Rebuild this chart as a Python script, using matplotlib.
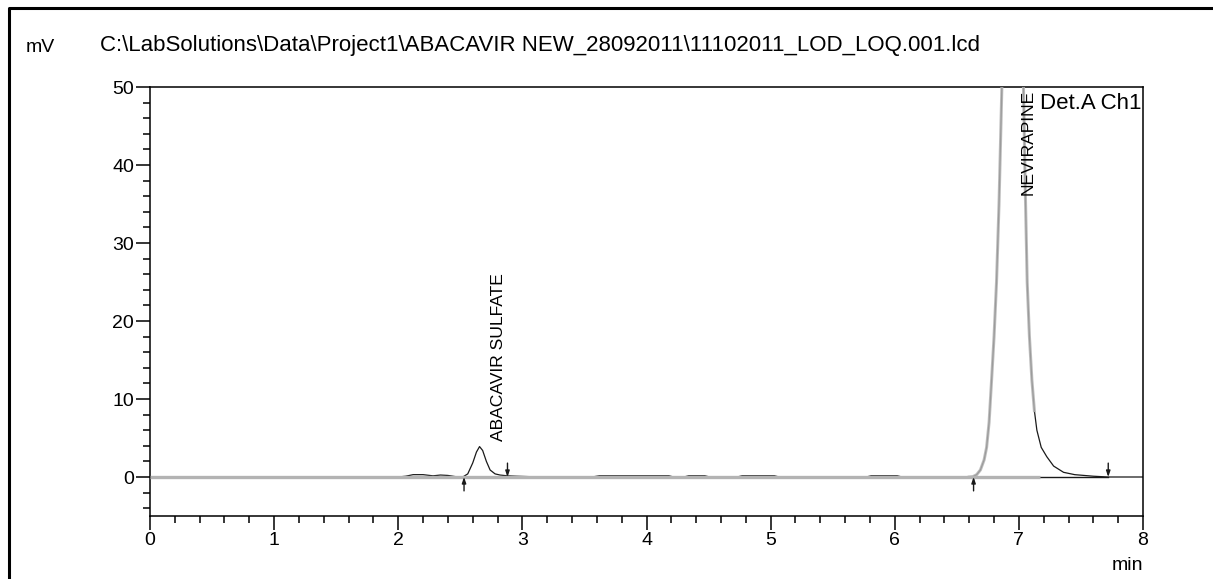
import matplotlib
matplotlib.use('Agg')
import matplotlib.pyplot as plt
from matplotlib.ticker import MultipleLocator
from matplotlib.lines import Line2D
import numpy as np

plt.rcParams['font.family'] = ['Liberation Sans', 'DejaVu Sans']

titulo = r"C:\LabSolutions\Data\Project1\ABACAVIR NEW_28092011\11102011_LOD_LOQ.001.lcd"

sig_t = [0.00, 2.00, 2.06, 2.12, 2.20, 2.28, 2.34, 2.40, 2.46, 2.52, 2.56, 2.60,
         2.63, 2.655, 2.68, 2.71, 2.74, 2.78, 2.82, 2.88, 2.95, 3.05, 3.10,
         3.56, 3.62, 4.18, 4.22, 4.30, 4.34, 4.47, 4.51, 4.73, 4.77, 5.03, 5.07,
         5.77, 5.81, 6.02, 6.06, 6.60, 6.63, 6.66, 6.69, 6.72, 6.74, 6.76, 6.78,
         6.80, 6.82, 6.84, 6.863, 6.90, 6.95, 7.00, 7.037, 7.05, 7.067, 7.085,
         7.105, 7.125, 7.145, 7.18, 7.225, 7.28, 7.36, 7.45, 7.60, 7.72, 8.00]
sig_mv = [0.00, 0.00, 0.10, 0.30, 0.30, 0.15, 0.25, 0.20, 0.05, 0.00, 0.40, 1.80,
          3.20, 3.90, 3.40, 2.00, 0.90, 0.40, 0.25, 0.15, 0.10, 0.05, 0.00,
          0.00, 0.15, 0.15, 0.00, 0.00, 0.15, 0.15, 0.00, 0.00, 0.15, 0.15, 0.00,
          0.00, 0.15, 0.15, 0.00, 0.00, 0.05, 0.30, 0.90, 2.20, 3.80, 7.00, 12.4,
          18.0, 25.0, 35.0, 50.0, 80.0, 100.0, 80.0, 50.0, 38.0, 25.0, 18.0,
          12.4, 8.5, 6.0, 3.8, 2.6, 1.4, 0.6, 0.3, 0.1, 0.0, 0.0]

# traço cinza sobreposto (linha de zero + pico da nevirapina)
cinza_fim = 7.17
cinza_pico = (6.60, 7.125)

picos_nome = ["ABACAVIR SULFATE", "NEVIRAPINE"]
picos_ini = [2.53, 6.635]
picos_fim = [2.88, 7.72]
rot_x = [2.804, 7.075]
rot_y = [4.6, 49.6]
rot_va = ['bottom', 'top']

sig_t = np.array(sig_t)
sig_mv = np.array(sig_mv)

# ── figura ─────────────────────────────────────────────────
fig = plt.figure(figsize=(12.13, 5.79), dpi=100)
ax = fig.add_axes([150/1213, 1-516/579, (1143-150)/1213, (516-87)/579])

ax.plot(sig_t, sig_mv, color='#1a1a1a', lw=0.9, zorder=2)

# linhas de base da integração
for a, b in zip(picos_ini, picos_fim):
    ax.plot([a, b], [0, 0], color='#1a1a1a', lw=1.0, zorder=2.5)

m = (sig_t >= cinza_pico[0]) & (sig_t <= cinza_pico[1])
ax.plot(sig_t[m], sig_mv[m], color='#b3b3b3', lw=2.2, alpha=0.85, zorder=3)
ax.plot([0, cinza_fim], [0, 0], color='#b3b3b3', lw=2.4, zorder=3, solid_capstyle='butt')

# setas de início/fim dos picos
seta = dict(arrowstyle='-|>,head_length=0.35,head_width=0.12',
            color='#1a1a1a', lw=1.0, shrinkA=0, shrinkB=0)
for a, b in zip(picos_ini, picos_fim):
    ax.annotate("", xy=(a, 0), xytext=(0, -10), textcoords='offset points',
                arrowprops=seta, zorder=5)
    ax.annotate("", xy=(b, 0), xytext=(0, 10), textcoords='offset points',
                arrowprops=seta, zorder=5)

for nome, x, y, va in zip(picos_nome, rot_x, rot_y, rot_va):
    ax.text(x, y, nome, rotation=90, ha='center', va=va, fontsize=12.6, zorder=6)

ax.text(0.998, 0.985, "Det.A Ch1", transform=ax.transAxes, ha='right', va='top',
        fontsize=16, zorder=6)

ax.set_xlim(0, 8)
ax.set_ylim(-5, 50)
ax.xaxis.set_major_locator(MultipleLocator(1))
ax.xaxis.set_minor_locator(MultipleLocator(0.2))
ax.yaxis.set_major_locator(MultipleLocator(10))
ax.yaxis.set_minor_locator(MultipleLocator(2))
ax.tick_params(which='major', length=10, width=1.1, labelsize=14, pad=1.5, direction='out')
ax.tick_params(which='minor', length=5, width=1.1, direction='out')
for s in ax.spines.values():
    s.set_linewidth(1.1)

fig.text(55/1213, 1-48/579, "mV", ha='right', va='center', fontsize=14)
fig.text(1143/1213, 1-565/579, "min", ha='right', va='center', fontsize=14)
fig.text(100/1213, 1-45/579, titulo, ha='left', va='center', fontsize=16)

# moldura externa
fig.add_artist(Line2D([9/1213, 9/1213, 1.0], [0.0, 1-8/579, 1-8/579],
                      transform=fig.transFigure, color='black', lw=2.2))

fig.savefig("out.png", dpi=100)
